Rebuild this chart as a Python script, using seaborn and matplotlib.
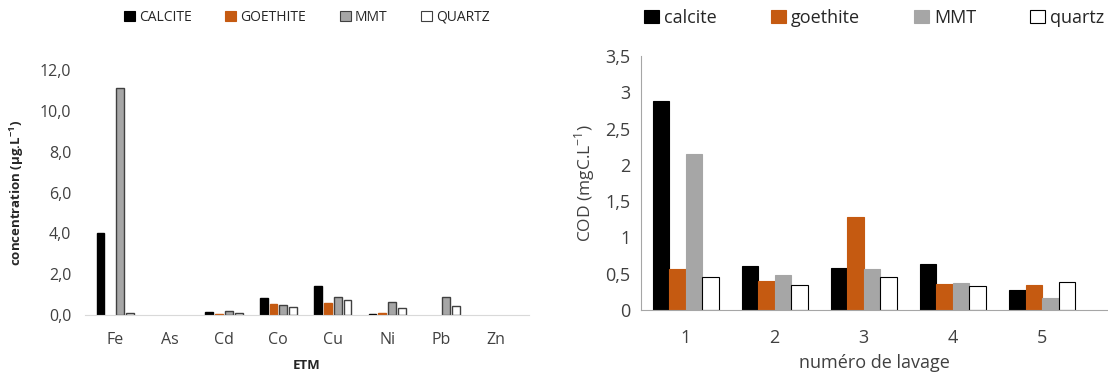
import pandas as pd
import numpy as np
import matplotlib
matplotlib.use("Agg")
import matplotlib.pyplot as plt
import seaborn as sns
from matplotlib.patches import Patch
from matplotlib.ticker import FuncFormatter, MultipleLocator

sns.set_style("white")
plt.rcParams['font.family'] = ['Open Sans', 'DejaVu Sans']

# left chart: trace elements released
elements = ['Fe', 'As', 'Cd', 'Co', 'Cu', 'Ni', 'Pb', 'Zn']
calcite_etm = [4.0, 0.0, 0.15, 0.85, 1.4, 0.05, 0.0, 0.0]
goethite_etm = [0.0, 0.0, 0.05, 0.55, 0.6, 0.1, 0.0, 0.0]
mmt_etm = [11.1, 0.0, 0.2, 0.5, 0.9, 0.65, 0.9, 0.0]
quartz_etm = [0.1, 0.0, 0.12, 0.4, 0.75, 0.35, 0.45, 0.0]

# right chart: COD per washing step
lavages = ['1', '2', '3', '4', '5']
calcite_cod = [2.88, 0.61, 0.58, 0.63, 0.27]
goethite_cod = [0.56, 0.40, 1.28, 0.36, 0.35]
mmt_cod = [2.15, 0.48, 0.56, 0.37, 0.17]
quartz_cod = [0.45, 0.34, 0.45, 0.33, 0.39]

minerals = ['calcite', 'goethite', 'MMT', 'quartz']
colors = ['#000000', '#C55A11', '#A6A6A6', '#FFFFFF']

df_etm = pd.DataFrame({
    'ETM': elements * 4,
    'value': calcite_etm + goethite_etm + mmt_etm + quartz_etm,
    'mineral': np.repeat(minerals, len(elements)),
})
df_cod = pd.DataFrame({
    'lavage': lavages * 4,
    'value': calcite_cod + goethite_cod + mmt_cod + quartz_cod,
    'mineral': np.repeat(minerals, len(lavages)),
})

fig = plt.figure(figsize=(11.08, 3.72), dpi=100)
ax1 = fig.add_axes([0.077, 0.153, 0.40, 0.659])
ax2 = fig.add_axes([0.5785, 0.1667, 0.4215, 0.683])

comma = lambda fmt: FuncFormatter(lambda v, p: fmt(v).replace('.', ','))

# left
sns.barplot(data=df_etm, x='ETM', y='value', hue='mineral', palette=colors,
            width=0.72, gap=0.2, ax=ax1, legend=False, saturation=1)
edge_left = ['#000000', '#C55A11', '#404040', '#404040']
for cont, ec in zip(ax1.containers, edge_left):
    for b in cont:
        b.set_edgecolor(ec)
        b.set_linewidth(1.0 if b.get_height() > 0 else 0)
ax1.set_ylim(0, 12)
ax1.set_xlim(-0.55, 7.6)
ax1.yaxis.set_major_locator(MultipleLocator(2))
ax1.yaxis.set_major_formatter(comma(lambda v: f"{v:.1f}"))
for s in ['top', 'right', 'left']:
    ax1.spines[s].set_visible(False)
ax1.spines['bottom'].set_color('#D9D9D9')
ax1.tick_params(axis='both', length=0, labelsize=11.5, colors='#404040')
ax1.tick_params(axis='x', pad=12)
ax1.tick_params(axis='y', pad=10)
ax1.set_xlabel('ETM', fontsize=9.5, fontweight='bold', labelpad=8)
ax1.set_ylabel('concentration (µg.L$^{\\mathregular{-1}}$)', fontsize=9.5, fontweight='bold', labelpad=10)
ax1.legend([Patch(facecolor=c, edgecolor=e, linewidth=0.8) for c, e in zip(colors, edge_left)],
           [m.upper() for m in minerals], loc='center', bbox_to_anchor=(0.5, 1.215),
           ncol=4, frameon=False, fontsize=10, handlelength=0.8, handleheight=0.8,
           handletextpad=0.3, columnspacing=2.4)

# right
sns.barplot(data=df_cod, x='lavage', y='value', hue='mineral', palette=colors,
            width=0.74, gap=0, ax=ax2, legend=False, saturation=1)
edge_right = ['#000000', '#C55A11', '#A6A6A6', '#000000']
for cont, ec in zip(ax2.containers, edge_right):
    for b in cont:
        b.set_edgecolor(ec)
        b.set_linewidth(0.8)
ax2.set_ylim(0, 3.5)
ax2.set_xlim(-0.5, 4.74)
ax2.yaxis.set_major_locator(MultipleLocator(0.5))
ax2.yaxis.set_major_formatter(comma(lambda v: f"{v:g}"))
ax2.set_xticks(np.arange(-0.5, 5, 1), minor=True)
for s in ['top', 'right']:
    ax2.spines[s].set_visible(False)
for s in ['left', 'bottom']:
    ax2.spines[s].set_color('#A6A6A6')
ax2.tick_params(axis='x', which='major', length=0, labelsize=13, colors='#404040', pad=14)
ax2.tick_params(axis='x', which='minor', length=5, color='#A6A6A6', direction='out')
ax2.tick_params(axis='y', length=4, labelsize=13, colors='#404040', color='#A6A6A6', direction='out')
ax2.set_xlabel('numéro de lavage', fontsize=13, color='#404040', labelpad=5)
ax2.set_ylabel('COD (mgC.L$^{\\mathregular{-1}}$)', fontsize=12.5, color='#404040', labelpad=6)
ax2.legend([Patch(facecolor=c, edgecolor=e, linewidth=0.8) for c, e in zip(colors, edge_right)],
           minerals, loc='center', bbox_to_anchor=(0.5, 1.15),
           ncol=4, frameon=False, fontsize=13, handlelength=0.8, handleheight=0.8,
           handletextpad=0.3, columnspacing=3.0)

fig.savefig('out.png', dpi=100)
